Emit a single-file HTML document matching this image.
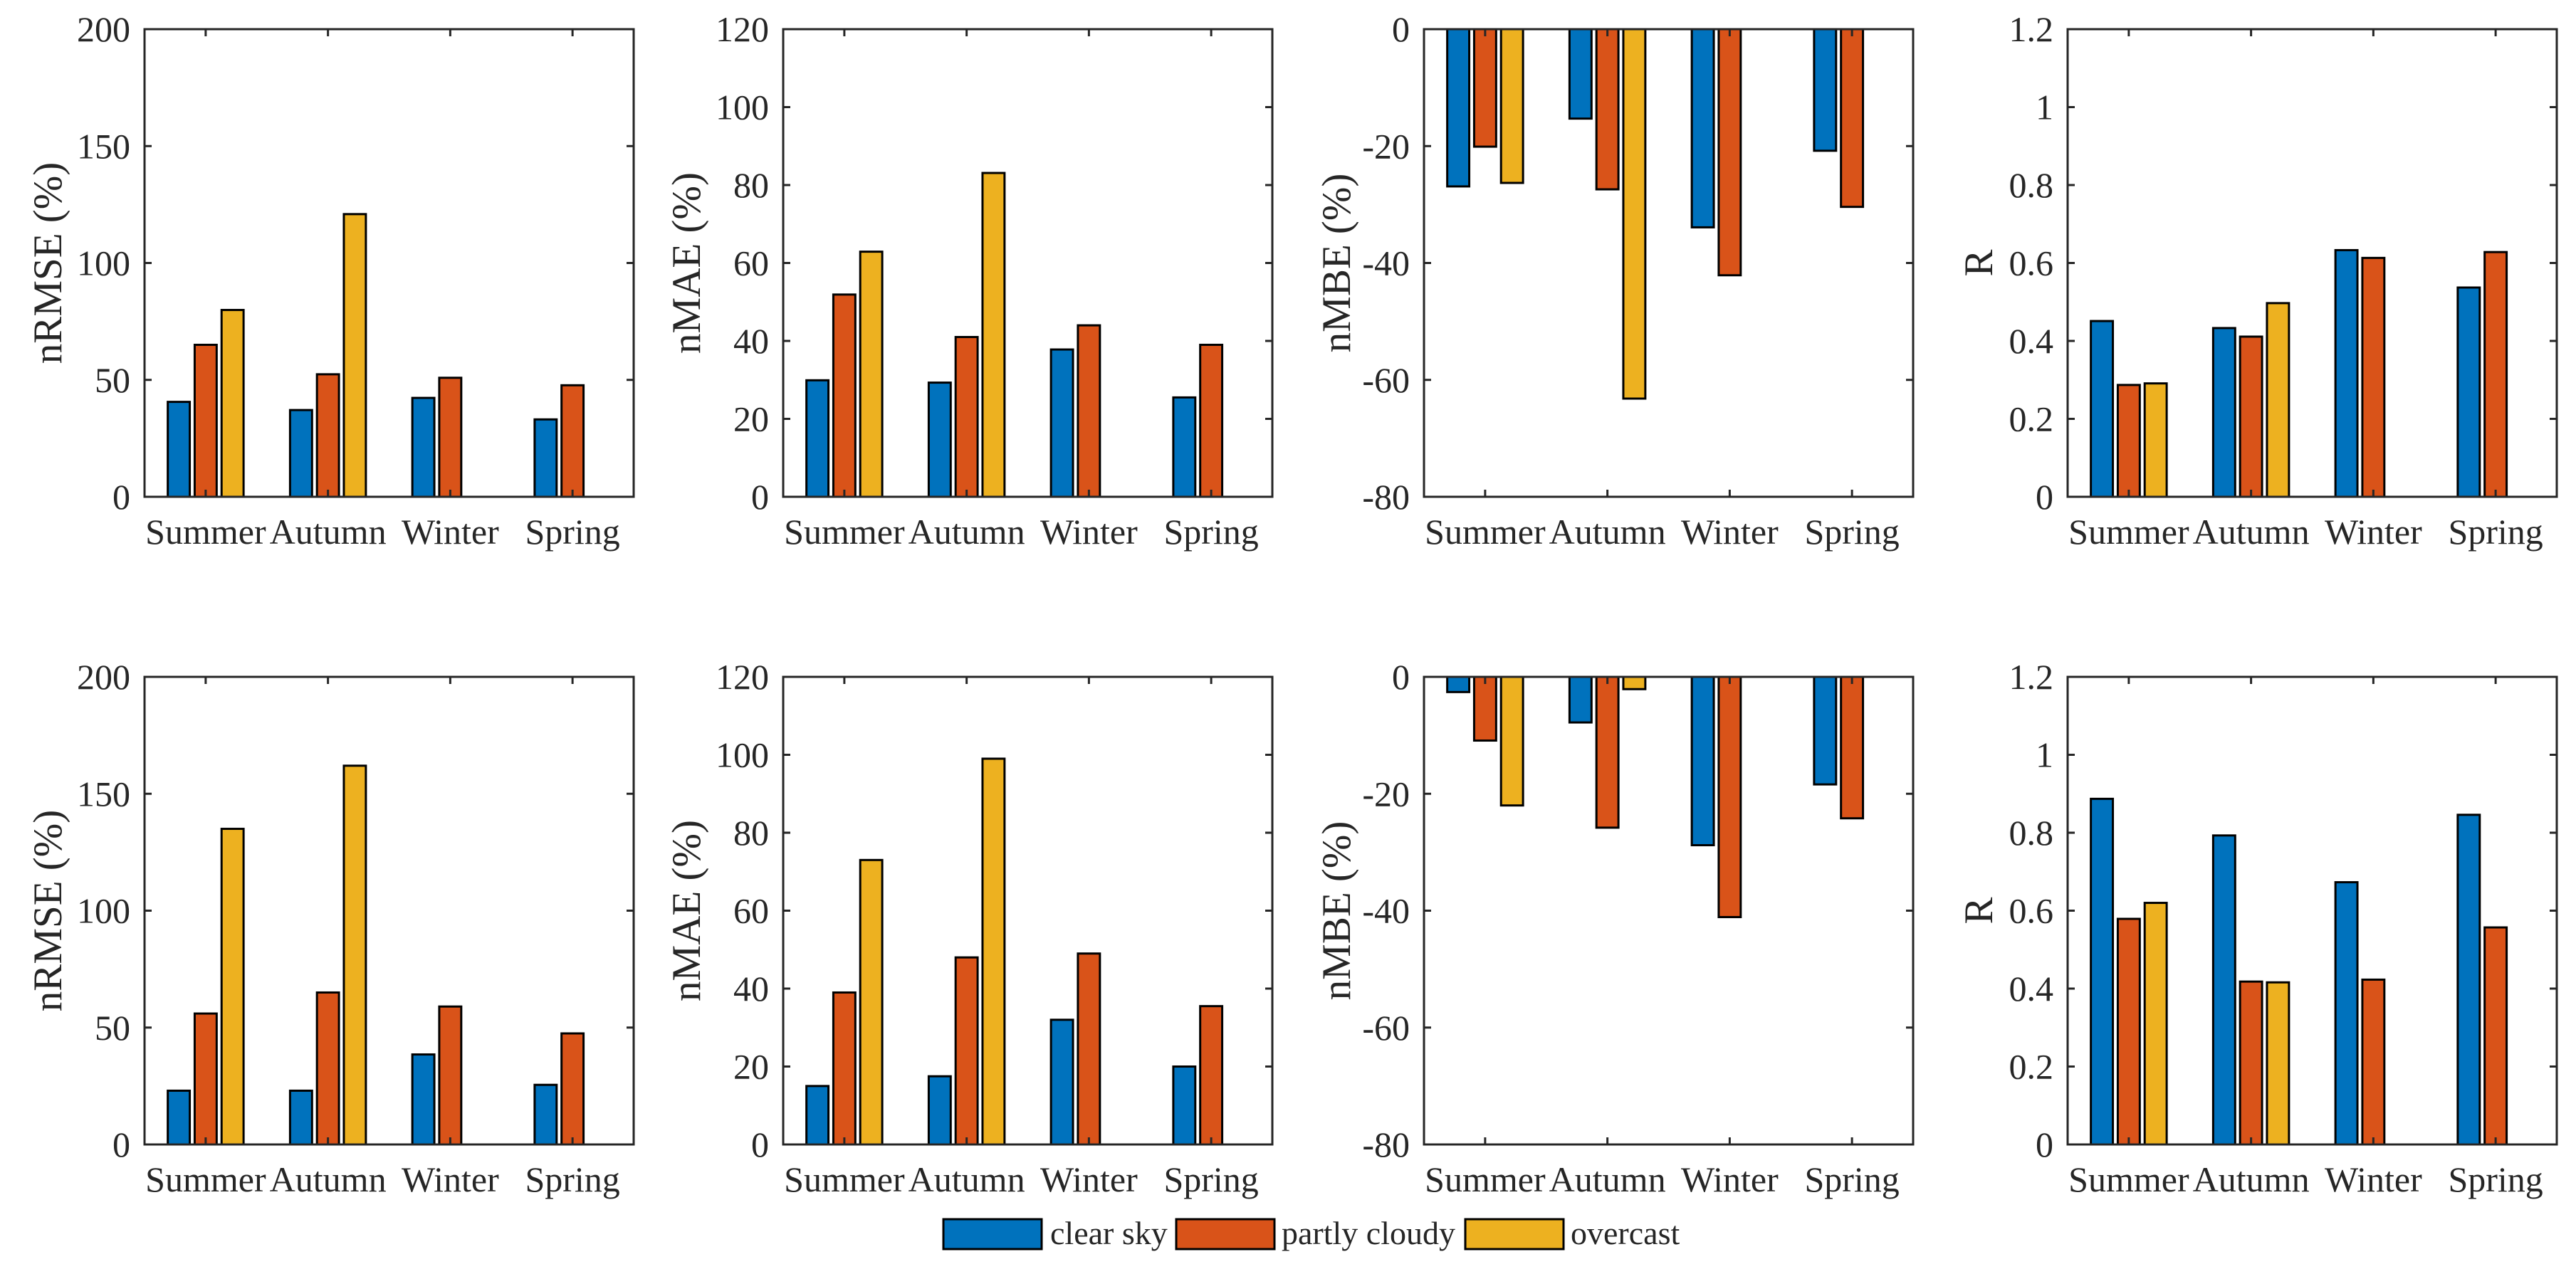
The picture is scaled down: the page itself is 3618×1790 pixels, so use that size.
<!DOCTYPE html>
<html><head><meta charset="utf-8"><style>
html,body{margin:0;padding:0;background:#fff}
svg{display:block}
text{font-family:"Liberation Serif",serif;fill:#262626}
</style></head><body>
<svg id="fig" width="3618" height="1790" viewBox="0 0 3618 1790" xmlns="http://www.w3.org/2000/svg"></svg>
<script>
const categories = ["Summer","Autumn","Winter","Spring"];
const seriesNames = ["clear sky","partly cloudy","overcast"];
const colors = ["#0072BD","#D95319","#EDB120"];
// top row
const nrmseTop = [[40.6,37.1,42.3,33.1],[65,52.4,50.9,47.7],[79.9,120.9,null,null]];
const nmaeTop = [[29.9,29.3,37.8,25.5],[51.9,41,44,39],[62.9,83.1,null,null]];
const nmbeTop = [[-26.9,-15.3,-33.9,-20.8],[-20.1,-27.4,-42.1,-30.4],[-26.3,-63.2,null,null]];
const rTop = [[0.451,0.433,0.633,0.537],[0.287,0.411,0.613,0.628],[0.291,0.497,null,null]];
// bottom row
const nrmseBot = [[23,23,38.5,25.5],[56,65,59,47.5],[135,162,null,null]];
const nmaeBot = [[15,17.5,32,20],[39,48,49,35.5],[73,99,null,null]];
const nmbeBot = [[-2.6,-7.8,-28.8,-18.4],[-10.9,-25.8,-41.1,-24.2],[-22,-2.1,null,null]];
const rBot = [[0.887,0.793,0.673,0.846],[0.579,0.418,0.423,0.557],[0.620,0.416,null,null]];
// axis configs
const nrmseTicks = [0,50,100,150,200];
const nmaeTicks = [0,20,40,60,80,100,120];
const nmbeTicks = [-80,-60,-40,-20,0];
const rTicks = [0,0.2,0.4,0.6,0.8,1,1.2];
const rTickLabels = ["0","0.2","0.4","0.6","0.8","1","1.2"];

const NS="http://www.w3.org/2000/svg";
const svg=document.getElementById('fig');
function mk(tag,attrs,parent){const e=document.createElementNS(NS,tag);for(const k in attrs)e.setAttribute(k,attrs[k]);(parent||svg).appendChild(e);return e;}

const colX=[203,1100,2000,2904], W=687;
const rowY=[41,951], H=657;
const labOff=[136,136,123,125];

function panel(ci,ri,data,ticks,tickLabels,ylabel,name){
  const x0=colX[ci], y0=rowY[ri];
  const ymin=ticks[0], ymax=ticks[ticks.length-1];
  const g=mk('g',{});
  
  
  const sx=v=>x0+W*(v-0.5)/4;
  const sy=v=>y0+H*(ymax-v)/(ymax-ymin);
  const base=Math.min(Math.max(0,ymin),ymax);
  for(let s=0;s<data.length;s++){
    for(let c=0;c<categories.length;c++){
      const v=data[s][c]; if(v===null) continue;
      const cx=c+1+(s-1)*0.22, bw=0.18;
      const xa=sx(cx-bw/2), xb=sx(cx+bw/2);
      const ya=sy(Math.max(v,base)), yb=sy(Math.min(v,base));
      const r=mk('rect',{x:xa,y:ya,width:xb-xa,height:yb-ya,fill:colors[s],stroke:'#000','stroke-width':3},g);
      
      
    }
  }
  const box=mk('rect',{x:x0,y:y0,width:W,height:H,fill:'none',stroke:'#262626','stroke-width':3},g);
  
  
  ticks.forEach((t,i)=>{
    const y=sy(t);
    mk('line',{x1:x0,y1:y,x2:x0+10,y2:y,stroke:'#262626','stroke-width':3},g);
    mk('line',{x1:x0+W,y1:y,x2:x0+W-10,y2:y,stroke:'#262626','stroke-width':3},g);
    const tx=mk('text',{x:x0-20,y:y+17,'font-size':50,'text-anchor':'end'},g);
    tx.textContent=tickLabels?tickLabels[i]:String(t);
    
    
  });
  categories.forEach((c,i)=>{
    const x=sx(i+1);
    mk('line',{x1:x,y1:y0+H,x2:x,y2:y0+H-10,stroke:'#262626','stroke-width':3},g);
    mk('line',{x1:x,y1:y0,x2:x,y2:y0+10,stroke:'#262626','stroke-width':3},g);
    const tx=mk('text',{x:x,y:y0+H+66,'font-size':50,'text-anchor':'middle'},g);
    tx.textContent=c;
    
    
  });
  const lx=x0-labOff[ci], ly=y0+H/2;
  const yl=mk('text',{x:lx,y:ly+19,'font-size':57,'text-anchor':'middle',transform:`rotate(-90 ${lx} ${ly})`},g);
  yl.textContent=ylabel;
  
  
}
panel(0,0,nrmseTop,nrmseTicks,null,'nRMSE (%)','nrmse-top-panel');
panel(1,0,nmaeTop,nmaeTicks,null,'nMAE (%)','nmae-top-panel');
panel(2,0,nmbeTop,nmbeTicks,null,'nMBE (%)','nmbe-top-panel');
panel(3,0,rTop,rTicks,rTickLabels,'R','r-top-panel');
panel(0,1,nrmseBot,nrmseTicks,null,'nRMSE (%)','nrmse-bottom-panel');
panel(1,1,nmaeBot,nmaeTicks,null,'nMAE (%)','nmae-bottom-panel');
panel(2,1,nmbeBot,nmbeTicks,null,'nMBE (%)','nmbe-bottom-panel');
panel(3,1,rBot,rTicks,rTickLabels,'R','r-bottom-panel');

const lg=mk('g',{});


const boxX=[1325,1652,2058], textX=[1475,1800,2206];
seriesNames.forEach((n,i)=>{
  const r=mk('rect',{x:boxX[i],y:1713,width:138,height:42,fill:colors[i],stroke:'#000','stroke-width':3},lg);
  
  
  const t=mk('text',{x:textX[i],y:1748,'font-size':46},lg);
  t.textContent=n;
  
  
});
</script>
</body></html>
